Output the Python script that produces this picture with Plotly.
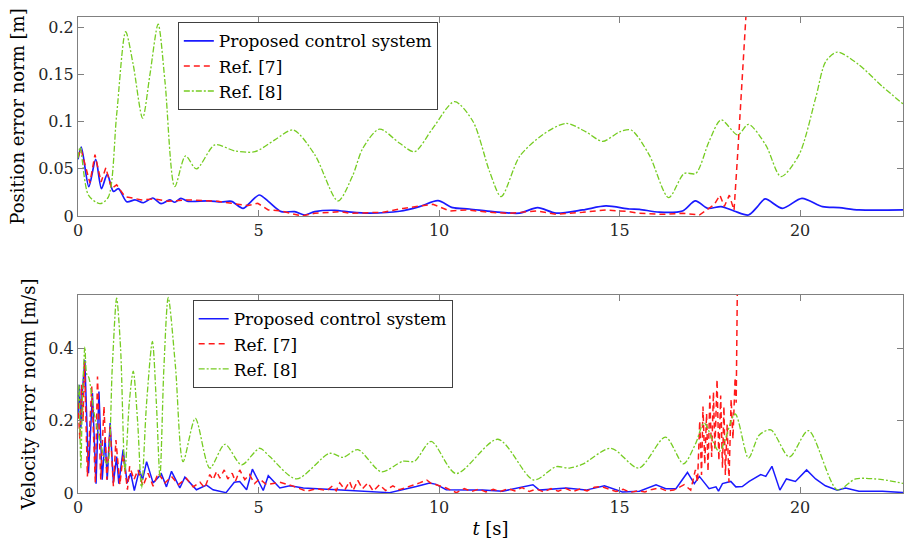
import plotly.graph_objects as go

# ---------------- data (t [s], value) ----------------
pos_proposed = [
    (0, 0.060), (0.09, 0.073), (0.30, 0.031), (0.49, 0.060), (0.65, 0.029), (0.81, 0.044),
    (0.98, 0.026), (1.12, 0.029), (1.35, 0.015), (1.58, 0.017), (1.81, 0.014), (2.07, 0.019),
    (2.30, 0.013), (2.54, 0.017), (2.68, 0.0145), (2.85, 0.0187), (3.05, 0.0155), (3.61, 0.016),
    (3.97, 0.0148), (4.25, 0.0155), (4.57, 0.008), (4.80, 0.0155), (5.02, 0.0222), (5.27, 0.0155),
    (5.63, 0.0046), (6.0, 0.0046), (6.28, 0.001), (6.56, 0.0046), (7.11, 0.006), (7.57, 0.004),
    (8.08, 0.003), (8.91, 0.005), (9.46, 0.0099), (9.97, 0.0162), (10.38, 0.0088), (10.84, 0.0074),
    (11.49, 0.0046), (12.23, 0.003), (12.73, 0.0088), (13.24, 0.003), (13.98, 0.0064), (14.62, 0.0106),
    (15.27, 0.0074), (15.55, 0.007), (16.10, 0.004), (16.74, 0.0053), (17.10, 0.0159), (17.44, 0.0081),
    (17.81, 0.0099), (18.17, 0.0053), (18.57, 0.001), (18.82, 0.0099), (19.03, 0.018), (19.51, 0.0081),
    (20.05, 0.0187), (20.62, 0.0099), (21.08, 0.0088), (21.63, 0.0064), (22.9, 0.0064),
]
pos_ref7 = [
    (0, 0.062), (0.08, 0.071), (0.33, 0.035), (0.47, 0.065), (0.64, 0.036), (0.77, 0.051),
    (0.93, 0.029), (1.07, 0.033), (1.30, 0.0205), (1.53, 0.019), (1.76, 0.017), (2.12, 0.018),
    (2.50, 0.0155), (3.05, 0.017), (3.88, 0.0155), (4.25, 0.0134), (4.71, 0.011), (4.98, 0.0134),
    (5.27, 0.0064), (5.63, 0.0053), (6.19, 0.0), (6.56, 0.0028), (7.29, 0.0046), (7.52, 0.0028),
    (8.45, 0.0039), (9.0, 0.008), (9.83, 0.0124), (10.29, 0.0053), (10.75, 0.0064), (11.40, 0.0039),
    (11.95, 0.0028), (12.69, 0.0053), (13.24, 0.0018), (13.98, 0.0039), (14.62, 0.0064), (15.27, 0.0046),
    (15.55, 0.0028), (16.19, 0.0018), (16.74, 0.0028), (17.21, 0.001), (17.48, 0.008), (17.62, 0.012),
    (17.78, 0.022), (17.90, 0.010), (18.04, 0.022), (18.17, 0.006), (18.27, 0.065), (18.39, 0.142),
    (18.50, 0.21), (18.56, 0.25),
]
pos_ref8 = [
    (0, 0.061), (0.06, 0.073), (0.29, 0.022), (0.61, 0.013), (0.84, 0.020), (1.07, 0.107),
    (1.32, 0.195), (1.53, 0.160), (1.79, 0.1035), (1.99, 0.149), (2.22, 0.203), (2.41, 0.142),
    (2.68, 0.031), (2.98, 0.0636), (3.28, 0.0498), (3.79, 0.0752), (4.34, 0.0689), (4.90, 0.068),
    (5.45, 0.0805), (5.96, 0.091), (6.56, 0.0647), (7.20, 0.0159), (7.60, 0.042), (7.89, 0.0717),
    (8.35, 0.092), (8.91, 0.077), (9.32, 0.068), (9.83, 0.093), (10.43, 0.121), (10.94, 0.100),
    (11.40, 0.047), (11.72, 0.0205), (12.23, 0.063), (12.87, 0.086), (13.52, 0.098), (14.07, 0.089),
    (14.53, 0.079), (15.0, 0.089), (15.32, 0.091), (15.82, 0.0647), (16.36, 0.0194), (16.79, 0.045),
    (17.11, 0.045), (17.48, 0.079), (17.81, 0.1017), (18.27, 0.0858), (18.57, 0.097), (19.05, 0.075),
    (19.47, 0.0417), (19.97, 0.0647), (20.43, 0.1247), (20.71, 0.1635), (21.03, 0.1735), (21.63, 0.160),
    (22.28, 0.137), (22.9, 0.117),
]

vel_proposed = [
    (0, 0.22), (0.04, 0.30), (0.08, 0.18), (0.12, 0.28), (0.19, 0.369), (0.29, 0.055), (0.40, 0.277),
    (0.50, 0.026), (0.58, 0.281), (0.67, 0.037), (0.75, 0.152), (0.81, 0.037), (0.89, 0.194),
    (0.98, 0.028), (1.07, 0.101), (1.13, 0.026), (1.25, 0.12), (1.36, 0.028), (1.46, 0.055),
    (1.56, 0.007), (1.70, 0.064), (1.79, 0.037), (1.90, 0.087), (2.08, 0.028), (2.31, 0.053),
    (2.45, 0.017), (2.59, 0.06), (2.82, 0.014), (2.96, 0.044), (3.28, 0.009), (3.56, 0.022),
    (3.74, 0.009), (4.10, 0.001), (4.33, 0.030), (4.48, 0.032), (4.67, 0.009), (4.83, 0.066),
    (5.13, 0.007), (5.27, 0.048), (5.59, 0.014), (5.87, 0.02), (6.24, 0.014), (7.16, 0.009),
    (8.08, 0.005), (8.63, 0.001), (9.37, 0.018), (9.74, 0.028), (9.92, 0.024), (10.20, 0.009),
    (10.84, 0.008), (11.21, 0.008), (11.76, 0.005), (12.14, 0.014), (12.60, 0.023), (12.78, 0.008),
    (13.52, 0.014), (14.07, 0.008), (14.58, 0.020), (15.08, 0.003), (15.55, 0.005), (16.01, 0.023),
    (16.28, 0.012), (16.56, 0.012), (16.88, 0.057), (17.07, 0.026), (17.21, 0.046), (17.48, 0.012),
    (17.67, 0.017), (17.74, 0.005), (17.85, 0.026), (18.08, 0.032), (18.22, 0.017), (18.40, 0.018),
    (18.59, 0.032), (18.91, 0.051), (19.05, 0.046), (19.22, 0.074), (19.44, 0.008), (19.62, 0.039),
    (19.87, 0.032), (20.18, 0.064), (20.43, 0.039), (20.70, 0.020), (21.03, 0.008), (21.26, 0.014),
    (21.63, 0.005), (22.28, 0.005), (22.88, 0.001),
]
vel_ref7 = [
    (0, 0.25), (0.05, 0.15), (0.10, 0.30), (0.14, 0.20), (0.18, 0.364), (0.26, 0.046), (0.38, 0.295),
    (0.48, 0.028), (0.54, 0.323), (0.63, 0.037), (0.72, 0.24), (0.80, 0.037), (0.89, 0.184),
    (0.98, 0.019), (1.05, 0.147), (1.16, 0.023), (1.25, 0.106), (1.37, 0.009), (1.43, 0.074),
    (1.55, 0.037), (1.66, 0.064), (1.80, 0.019), (1.94, 0.055), (2.08, 0.019), (2.22, 0.055),
    (2.41, 0.028), (2.59, 0.046), (2.78, 0.023), (3.0, 0.041), (3.19, 0.017), (3.38, 0.030),
    (3.51, 0.014), (3.65, 0.051), (3.74, 0.037), (3.84, 0.06), (3.93, 0.041), (4.05, 0.064),
    (4.15, 0.039), (4.27, 0.055), (4.36, 0.032), (4.48, 0.064), (4.62, 0.037), (4.75, 0.051),
    (4.89, 0.026), (5.03, 0.039), (5.22, 0.023), (5.59, 0.030), (5.96, 0.019), (6.33, 0.005),
    (6.6, 0.012), (6.9, 0.007), (7.05, 0.02), (7.15, 0.006), (7.25, 0.028), (7.39, 0.009),
    (7.52, 0.032), (7.62, 0.007), (7.75, 0.035), (7.88, 0.012), (8.03, 0.028), (8.18, 0.005),
    (8.35, 0.023), (8.52, 0.007), (8.72, 0.02), (8.90, 0.009), (9.18, 0.018), (9.46, 0.028),
    (9.66, 0.036), (9.80, 0.025), (9.92, 0.023), (10.20, 0.014), (10.48, 0.001), (10.7, 0.012),
    (10.9, 0.004), (11.1, 0.011), (11.3, 0.003), (11.5, 0.010), (11.7, 0.004), (11.9, 0.012),
    (12.1, 0.006), (12.3, 0.015), (12.5, 0.004), (12.7, 0.011), (12.9, 0.003), (13.1, 0.012),
    (13.3, 0.005), (13.5, 0.013), (13.7, 0.004), (13.9, 0.011), (14.1, 0.006), (14.3, 0.016),
    (14.5, 0.018), (14.7, 0.010), (14.9, 0.004), (15.1, 0.010), (15.3, 0.002), (15.5, 0.006),
    (15.7, 0.003), (15.9, 0.010), (16.1, 0.014), (16.3, 0.006), (16.5, 0.008), (16.79, 0.023),
    (16.97, 0.008), (17.10, 0.064), (17.16, 0.03), (17.22, 0.20), (17.27, 0.05), (17.31, 0.24),
    (17.36, 0.08), (17.41, 0.22), (17.45, 0.06), (17.50, 0.27), (17.55, 0.10), (17.60, 0.28),
    (17.64, 0.12), (17.70, 0.315), (17.75, 0.09), (17.80, 0.27), (17.85, 0.07), (17.89, 0.24),
    (17.93, 0.05), (17.98, 0.19), (18.03, 0.03), (18.09, 0.26), (18.14, 0.15), (18.20, 0.32),
    (18.23, 0.25), (18.27, 0.65),
]
vel_ref8 = [
    (0, 0.25), (0.03, 0.30), (0.05, 0.20), (0.08, 0.07), (0.12, 0.25), (0.19, 0.405), (0.24, 0.33),
    (0.30, 0.32), (0.45, 0.22), (0.6, 0.15), (0.75, 0.09), (0.82, 0.08), (0.95, 0.35), (1.07, 0.54),
    (1.18, 0.40), (1.30, 0.06), (1.42, 0.25), (1.53, 0.338), (1.65, 0.20), (1.76, 0.014),
    (1.90, 0.25), (2.06, 0.42), (2.17, 0.25), (2.27, 0.046), (2.38, 0.35), (2.50, 0.542),
    (2.70, 0.35), (2.91, 0.087), (3.25, 0.207), (3.65, 0.069), (4.07, 0.135), (4.53, 0.078),
    (5.03, 0.124), (5.31, 0.101), (6.05, 0.039), (6.97, 0.11), (7.34, 0.099), (7.75, 0.12),
    (8.40, 0.059), (9.0, 0.088), (9.32, 0.088), (9.78, 0.143), (10.47, 0.054), (11.63, 0.149),
    (12.62, 0.036), (13.24, 0.073), (13.61, 0.069), (13.98, 0.08), (14.76, 0.124), (15.53, 0.069),
    (16.27, 0.155), (16.77, 0.081), (17.11, 0.138), (17.34, 0.194), (17.76, 0.115), (18.20, 0.219),
    (18.57, 0.097), (18.87, 0.161), (19.19, 0.175), (19.70, 0.10), (20.23, 0.173), (21.03, 0.009),
    (21.54, 0.039), (22.28, 0.037), (22.88, 0.026),
]

series_names = ["Proposed control system", "Ref. [7]", "Ref. [8]"]
x_ticks = [0, 5, 10, 15, 20]
pos_ticks = [0, 0.05, 0.1, 0.15, 0.2]
pos_tick_text = ["0", "0.05", "0.1", "0.15", "0.2"]
vel_ticks = [0, 0.2, 0.4]
vel_tick_text = ["0", "0.2", "0.4"]

# ---------------- styling ----------------
FONT = "DejaVu Serif, Liberation Serif, serif"
BLUE = "#1a1aff"
RED = "#ff1a1a"
GREEN = "#76cc22"
AXC = "#808080"

def xy(pairs):
    return [p[0] for p in pairs], [p[1] for p in pairs]

fig = go.Figure()

def add(pairs, name, color, dash, shape, xa, ya, legend, width):
    x, y = xy(pairs)
    line = dict(color=color, width=width, dash=dash, shape=shape)
    if shape == "spline":
        line["smoothing"] = 0.8
    fig.add_trace(go.Scatter(x=x, y=y, mode="lines", name=name, line=line,
                             xaxis=xa, yaxis=ya, legend=legend))

add(pos_proposed, series_names[0], BLUE, "solid", "spline", "x", "y", "legend", 1.7)
add(pos_ref7, series_names[1], RED, "6px,4px", "linear", "x", "y", "legend", 1.5)
add(pos_ref8, series_names[2], GREEN, "6px,2px,2px,2px", "spline", "x", "y", "legend", 1.3)
add(vel_proposed, series_names[0], BLUE, "solid", "linear", "x2", "y2", "legend2", 1.5)
add(vel_ref7, series_names[1], RED, "6px,4px", "linear", "x2", "y2", "legend2", 1.5)
add(vel_ref8, series_names[2], GREEN, "6px,2px,2px,2px", "spline", "x2", "y2", "legend2", 1.3)

axis_common = dict(showline=True, linecolor=AXC, linewidth=1, mirror="ticks",
                   ticks="inside", ticklen=6, tickcolor=AXC, showgrid=False, zeroline=False,
                   tickfont=dict(family=FONT, size=16, color="#262626"))

legend_common = dict(font=dict(family=FONT, size=17, color="#000000"), bgcolor="white",
                     bordercolor="#404040", borderwidth=1, xref="paper", yref="paper",
                     xanchor="left", yanchor="top", tracegroupgap=0, itemwidth=30)

title_font = dict(family=FONT, size=18, color="#000000")

fig.update_layout(
    width=906, height=549,
    margin=dict(l=78, r=3, t=17, b=56),
    paper_bgcolor="white", plot_bgcolor="white",
    font=dict(family=FONT, size=16, color="#000000"),
    xaxis=dict(axis_common, domain=[0, 1], range=[0, 22.85], tickvals=x_ticks, anchor="y"),
    yaxis=dict(axis_common, domain=[0.582, 1], range=[0, 0.2106], tickvals=pos_ticks,
               ticktext=pos_tick_text, anchor="x",
               title=dict(text="Position error norm [m]", font=title_font, standoff=8)),
    xaxis2=dict(axis_common, domain=[0, 1], range=[0, 22.85], tickvals=x_ticks, anchor="y2",
                title=dict(text="<i>t</i> [s]", font=title_font, standoff=6)),
    yaxis2=dict(axis_common, domain=[0, 0.416], range=[0, 0.549], tickvals=vel_ticks,
                ticktext=vel_tick_text, anchor="x2",
                title=dict(text="Velocity error norm [m/s]", font=title_font, standoff=8)),
    legend=dict(legend_common, x=0.121, y=0.989),
    legend2=dict(legend_common, x=0.139, y=0.405),
    showlegend=True,
)

fig.write_html("out.html", config={"displayModeBar": False},
               post_script="document.body.style.margin='0';document.body.style.padding='0';")
